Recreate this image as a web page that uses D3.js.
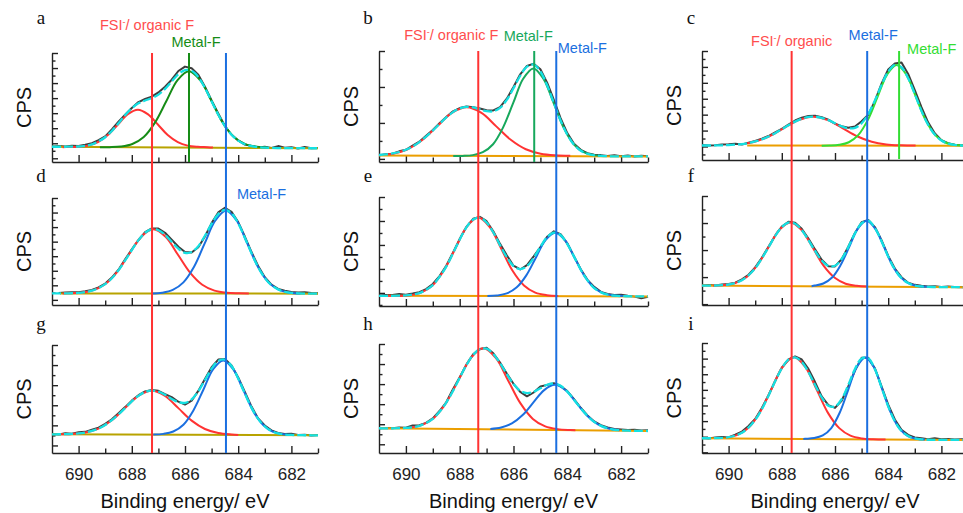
<!DOCTYPE html>
<html lang="en">
<head>
<meta charset="utf-8">
<style>
  body { margin: 0; background: #fff; }
  svg { display: block; background: #fff; font-family: "Liberation Sans", Arial, sans-serif; }
  .axis path, .axis line { stroke: #222; stroke-width: 1.4; }
  .axis text { font-size: 17px; fill: #222; font-family: "Liberation Sans", Arial, sans-serif; }
</style>
<title>F 1s XPS</title>
</head>
<body>
<script src="https://cdn.jsdelivr.net/npm/d3@7"></script>
<script>

// binding energy grid (eV) shared by the raw spectra and the envelopes
const be = [691, 690.75, 690.5, 690.25, 690, 689.75, 689.5, 689.25, 689, 688.75, 688.5, 688.25, 688,
  687.75, 687.5, 687.25, 687, 686.75, 686.5, 686.25, 686, 685.75, 685.5, 685.25, 685, 684.75, 684.5,
  684.25, 684, 683.75, 683.5, 683.25, 683, 682.75, 682.5, 682.25, 682, 681.75, 681.5, 681.25, 681];

const xMajor = [690, 688, 686, 684, 682];
const xMinor = [689, 687, 685, 683, 681];

// ---- panel a
const rawA = [14.0, 14.6, 14.2, 15.0, 14.6, 15.8, 17.2, 20.0, 23.5, 29.8, 37.0, 43.5, 49.6, 55.0, 57.8, 60.0, 63.8, 69.0, 75.5, 83.5, 87.5, 86.0, 80.0, 69.0, 56.5, 44.5, 33.0, 25.0, 19.8, 16.0, 14.8, 13.4, 14.0, 12.8, 14.6, 13.0, 13.6, 12.4, 13.8, 12.6, 12.8];
const fitA = [14.0, 14.0, 14.0, 14.1, 14.2, 14.9, 16.1, 18.9, 22.7, 28.5, 35.6, 43.0, 49.3, 53.8, 56.4, 58.6, 61.8, 67.1, 73.9, 80.5, 84.3, 83.7, 78.0, 68.0, 55.7, 43.5, 32.9, 25.0, 19.6, 16.3, 14.5, 13.6, 13.1, 12.9, 12.8, 12.75, 12.7, 12.7, 12.65, 12.6, 12.6];
const baseA = [[691, 14.0], [681, 12.6]];
const redA = [[690.6, 13.6], [690.40, 13.7], [690.02, 13.9], [689.65, 15.0], [689.27, 18.2], [688.90, 24.7], [688.52, 34.4], [688.15, 43.9], [687.77, 48.0], [687.40, 43.9], [687.02, 34.4], [686.65, 24.7], [686.27, 18.2], [685.90, 15.0], [685.52, 13.9], [685.15, 13.6], [684.95, 13.3]];
const greenA = [[689.2, 13.5], [688.83, 13.6], [688.40, 14.2], [687.98, 16.5], [687.55, 22.9], [687.13, 36.1], [686.70, 55.9], [686.28, 75.2], [685.85, 83.3], [685.43, 75.1], [685.00, 55.8], [684.58, 36.0], [684.15, 22.8], [683.73, 16.4], [683.30, 14.1], [682.88, 13.4]];

// ---- panel b
const rawB = [6.0, 7.0, 7.4, 9.6, 11.0, 14.8, 18.3, 23.6, 28.8, 34.9, 40.6, 45.6, 48.6, 50.0, 49.4, 48.2, 46.6, 46.5, 49.5, 57.0, 67.5, 79.0, 86.5, 88.6, 83.5, 71.5, 56.0, 39.5, 26.0, 16.5, 11.0, 8.0, 6.5, 6.2, 5.4, 6.0, 5.2, 5.9, 5.0, 5.6, 5.2];
const fitB = [6.3, 6.8, 7.7, 9.0, 11.0, 13.95, 17.9, 22.8, 28.3, 34.3, 40.1, 44.9, 48.3, 49.65, 49.2, 47.5, 45.8, 45.7, 48.7, 56.0, 66.4, 77.7, 85.9, 87.7, 81.7, 69.1, 53.2, 37.5, 24.7, 15.6, 10.2, 7.4, 6.0, 5.5, 5.2, 5.1, 5.1, 5.05, 5.0, 5.0, 5.0];
const baseB = [[691, 5.8], [681, 5.0]];
const redB = [[690.7, 6.9], [690.49, 7.5], [689.94, 11.5], [689.39, 19.8], [688.84, 32.1], [688.29, 44.2], [687.74, 49.3], [687.19, 44.2], [686.64, 32.1], [686.09, 19.8], [685.54, 11.5], [684.99, 7.5], [684.44, 6.0], [683.89, 5.6]];
const greenB = [[688.24, 5.4], [687.89, 5.5], [687.51, 6.2], [687.14, 8.8], [686.76, 16.0], [686.39, 31.0], [686.01, 53.2], [685.64, 75.0], [685.26, 84.3], [684.89, 75.0], [684.51, 53.2], [684.14, 31.0], [683.76, 16.0], [683.39, 8.8], [683.01, 6.2], [682.64, 5.5]];

// ---- panel c
const rawC = [13.8, 13.2, 13.6, 14.2, 14.4, 14.8, 14.2, 15.8, 17.4, 19.6, 22.0, 25.4, 28.6, 32.5, 36.2, 38.8, 40.4, 40.6, 39.2, 37.0, 33.4, 31.0, 29.6, 30.8, 35.5, 41.5, 54.0, 70.0, 83.0, 88.5, 89.5, 79.0, 64.0, 48.5, 34.5, 24.5, 18.2, 15.5, 14.0, 13.6, 13.4];
const fitC = [13.3, 13.3, 13.4, 13.5, 13.7, 14.1, 14.6, 15.6, 17.0, 18.9, 21.5, 24.6, 28.2, 31.8, 35.2, 37.8, 39.5, 39.75, 38.7, 36.55, 33.7, 30.9, 29.1, 29.55, 33.7, 42.1, 54.7, 68.9, 81.1, 87.2, 85.1, 75.0, 60.5, 45.1, 32.4, 23.3, 17.9, 15.0, 13.8, 13.3, 13.1];
const baseC = [[689.3, 13.3], [681, 13.0]];
const redC = [[689.3, 15.3], [689.02, 16.75], [688.47, 21.8], [687.92, 29.3], [687.37, 36.6], [686.82, 39.75], [686.27, 36.6], [685.72, 29.3], [685.17, 21.8], [684.62, 16.75], [684.07, 14.3], [683.52, 13.45], [682.97, 13.2]];
const greenC = [[686.5, 13.1], [686.20, 13.2], [685.84, 13.9], [685.48, 16.3], [685.12, 23.05], [684.76, 37.05], [684.40, 57.95], [684.04, 78.35], [683.68, 87.05], [683.32, 78.35], [682.96, 57.95], [682.60, 37.05], [682.24, 23.05], [681.88, 16.3], [681.52, 13.9], [681.16, 13.2]];

// ---- panel d
const rawD = [null, 11.2, 11.6, 11.9, 12.0, 12.8, 14.0, 16.4, 20.0, 25.6, 33.0, 42.6, 52.0, 60.5, 68.0, 71.5, 71.4, 67.5, 61.0, 54.5, 49.5, 49.0, 54.0, 64.0, 76.5, 86.5, 90.8, 87.0, 77.5, 64.0, 49.5, 36.5, 26.0, 19.0, 15.0, 13.4, 12.2, 11.6, 11.9, 11.2, 11.0];
const fitD = [10.8, 10.8, 10.9, 11.0, 11.35, 12.1, 13.35, 15.8, 19.45, 25.05, 32.5, 41.65, 51.4, 60.65, 67.5, 70.8, 69.9, 65.55, 59.0, 52.65, 48.8, 49.5, 55.0, 64.7, 75.8, 85.0, 88.8, 85.8, 76.4, 62.85, 48.4, 35.35, 25.3, 18.55, 14.6, 12.35, 11.3, 10.9, 10.7, 10.6, 10.6];
const baseD = [[690.7, 10.8], [681, 10.6]];
const redD = [[690.6, 10.85], [690.41, 10.9], [689.95, 11.4], [689.49, 13.4], [689.03, 18.9], [688.57, 30.25], [688.11, 47.15], [687.65, 63.7], [687.19, 70.75], [686.73, 63.7], [686.27, 47.15], [685.81, 30.25], [685.35, 18.9], [684.89, 13.4], [684.43, 11.4], [683.97, 10.9], [683.6, 10.7]];
const blueD = [[687.26, 10.8], [686.86, 11.5], [686.46, 14.05], [686.06, 21.15], [685.66, 35.75], [685.26, 57.55], [684.86, 78.95], [684.46, 88.05], [684.06, 78.95], [683.66, 57.55], [683.26, 35.75], [682.86, 21.15], [682.46, 14.05], [682.06, 11.5], [681.66, 10.8]];

// ---- panel e
const rawE = [9.6, 10.0, 10.2, 11.0, 10.4, 11.4, 12.6, 15.5, 20.2, 27.5, 37.0, 49.0, 61.5, 72.5, 80.0, 81.8, 77.8, 68.5, 57.0, 46.5, 37.0, 33.5, 37.5, 45.5, 54.0, 63.5, 68.5, 66.0, 57.5, 45.5, 33.8, 24.0, 17.5, 13.0, 11.0, 10.0, 10.4, 9.4, 8.6, 7.0, 8.5];
const fitE = [9.3, 9.3, 9.3, 9.45, 9.7, 10.5, 11.8, 14.8, 19.2, 26.8, 36.15, 48.3, 60.9, 72.2, 79.3, 81.0, 76.6, 67.4, 55.75, 44.8, 36.7, 33.85, 36.6, 44.2, 54.3, 63.2, 67.3, 65.1, 56.8, 45.3, 33.3, 23.5, 16.5, 12.5, 10.4, 9.5, 9.05, 8.95, 8.9, 8.85, 8.8];
const baseE = [[690.7, 9.3], [681, 8.8]];
const redE = [[690.7, 9.3], [690.29, 9.25], [689.86, 9.9], [689.44, 12.25], [689.01, 18.85], [688.59, 32.5], [688.16, 52.8], [687.74, 72.6], [687.31, 81.1], [686.89, 72.6], [686.46, 52.8], [686.04, 32.5], [685.61, 18.85], [685.19, 12.25], [684.76, 9.9], [684.34, 9.25]];
const blueE = [[686.97, 9.1], [686.61, 9.65], [686.25, 11.55], [685.89, 16.9], [685.53, 27.9], [685.17, 44.3], [684.81, 60.4], [684.45, 67.2], [684.09, 60.4], [683.73, 44.3], [683.37, 27.9], [683.01, 16.9], [682.65, 11.55], [682.29, 9.65], [681.93, 9.1]];

// ---- panel f
const rawF = [17.9, 18.4, 18.0, 18.9, 19.2, 20.5, 23.5, 27.8, 34.5, 43.3, 53.5, 63.5, 72.0, 76.4, 75.5, 70.0, 61.0, 51.0, 41.5, 35.5, 35.4, 42.0, 53.5, 66.0, 76.0, 78.0, 71.5, 59.5, 45.0, 33.5, 25.5, 20.5, 18.5, 17.6, 16.9, 17.3, 16.6, 16.9, 16.5, 16.2, 16.4];
const fitF = [17.8, 17.8, 17.9, 18.2, 18.8, 20.2, 22.7, 27.3, 33.7, 42.8, 52.9, 63.3, 71.45, 75.6, 74.6, 68.75, 59.6, 49.6, 40.9, 35.8, 36.0, 42.2, 53.2, 65.75, 75.0, 77.3, 70.6, 58.45, 44.45, 32.7, 24.6, 20.1, 17.85, 17.0, 16.6, 16.5, 16.45, 16.4, 16.4, 16.3, 16.3];
const baseF = [[691, 17.8], [681, 16.3]];
const redF = [[690.58, 17.85], [690.16, 18.3], [689.75, 20.2], [689.33, 25.45], [688.92, 36.5], [688.50, 52.9], [688.09, 69.0], [687.67, 75.8], [687.26, 68.8], [686.84, 52.7], [686.43, 36.1], [686.01, 24.95], [685.60, 19.55], [685.18, 17.6], [684.77, 17.0]];
const blueF = [[686.88, 17.3], [686.76, 17.85], [686.44, 19.75], [686.11, 25.2], [685.79, 36.6], [685.46, 53.55], [685.14, 70.1], [684.81, 77.2], [684.49, 70.0], [684.16, 53.4], [683.84, 36.3], [683.51, 24.85], [683.19, 19.3], [682.86, 17.25], [682.54, 16.65]];

// ---- panel g
const rawG = [17.5, 17.2, 18.2, 17.8, 19.2, 19.6, 21.5, 23.5, 27.0, 31.2, 36.8, 42.5, 48.5, 53.5, 57.0, 58.3, 57.6, 54.5, 51.8, 47.5, 44.8, 48.5, 57.5, 68.5, 79.5, 86.5, 87.0, 81.0, 70.0, 56.5, 43.0, 32.0, 25.5, 21.0, 18.5, 17.5, 17.8, 16.6, 17.0, 16.2, 16.6];
const fitG = [17.3, 17.35, 17.45, 17.7, 18.2, 19.0, 20.4, 22.7, 26.0, 30.5, 35.75, 41.7, 47.8, 52.9, 56.5, 57.7, 56.75, 53.9, 50.0, 47.05, 46.45, 49.6, 57.1, 67.5, 78.05, 85.3, 86.4, 80.5, 69.1, 55.1, 42.0, 31.6, 24.55, 20.3, 18.1, 17.1, 16.7, 16.5, 16.45, 16.4, 16.4];
const baseG = [[691, 17.3], [681, 16.4]];
const redG = [[690.75, 17.35], [690.25, 17.7], [689.75, 19.0], [689.25, 22.65], [688.75, 30.3], [688.25, 41.75], [687.75, 52.9], [687.25, 57.65], [686.75, 52.8], [686.25, 41.55], [685.75, 30.0], [685.25, 22.25], [684.75, 18.5], [684.25, 17.1], [684.0, 16.75]];
const blueG = [[687.19, 17.1], [686.81, 17.7], [686.44, 19.9], [686.06, 26.2], [685.69, 39.2], [685.31, 58.6], [684.94, 77.65], [684.56, 85.7], [684.19, 77.6], [683.81, 58.45], [683.44, 39.0], [683.06, 25.9], [682.69, 19.6], [682.31, 17.3], [681.94, 16.65]];

// ---- panel h
const rawH = [22.4, 22.9, 22.6, 23.4, 23.2, 25.2, 25.4, 27.6, 31.8, 38.5, 46.5, 58.5, 69.5, 81.0, 90.5, 95.5, 96.5, 91.5, 83.0, 73.0, 63.5, 56.0, 52.0, 55.5, 61.0, 62.5, 64.0, 61.5, 56.8, 49.5, 41.5, 34.5, 29.0, 25.5, 23.4, 22.0, 21.6, 21.2, 21.4, 20.6, 20.8];
const fitH = [22.7, 22.65, 22.65, 22.75, 23.0, 23.7, 24.9, 27.5, 31.4, 37.8, 46.2, 56.9, 68.95, 80.7, 90.0, 95.3, 95.7, 90.8, 82.4, 72.4, 63.35, 57.2, 54.95, 56.1, 59.4, 62.6, 63.75, 61.6, 56.3, 48.8, 41.0, 34.0, 28.5, 24.9, 22.7, 21.3, 20.8, 20.45, 20.3, 20.25, 20.2];
const baseH = [[691, 22.7], [681, 20.2]];
const redH = [[689.88, 23.2], [689.42, 25.6], [688.96, 32.2], [688.50, 46.2], [688.04, 67.1], [687.58, 87.4], [687.12, 96.0], [686.66, 87.2], [686.20, 66.6], [685.74, 45.5], [685.28, 31.3], [684.82, 24.4], [684.36, 21.9], [683.90, 21.1], [683.70, 20.95]];
const blueH = [[686.86, 22.1], [686.46, 23.4], [686.06, 27.1], [685.66, 34.8], [685.26, 46.4], [684.86, 57.7], [684.46, 62.5], [684.06, 57.5], [683.66, 46.0], [683.26, 34.2], [682.86, 26.3], [682.46, 22.4], [682.06, 20.9]];

// ---- panel i
const rawI = [13.6, 13.2, 14.0, 14.6, 14.2, 16.6, 19.5, 24.5, 31.0, 41.0, 52.5, 65.5, 77.5, 85.0, 87.8, 85.0, 76.5, 64.5, 51.5, 43.5, 41.0, 47.5, 60.5, 75.0, 86.5, 86.5, 77.0, 60.5, 44.0, 30.5, 21.0, 16.5, 14.2, 13.5, 12.6, 13.4, 12.5, 12.8, 12.2, 12.6, 12.0];
const fitI = [13.4, 13.4, 13.5, 13.7, 14.35, 15.8, 18.35, 23.2, 30.05, 39.9, 52.15, 65.2, 77.0, 84.85, 86.9, 82.8, 73.6, 61.8, 50.55, 43.0, 42.3, 48.95, 61.9, 76.4, 86.0, 86.1, 76.05, 59.6, 42.5, 28.85, 20.0, 15.35, 13.2, 12.4, 12.05, 12.0, 11.95, 11.9, 11.9, 11.85, 11.8];
const baseI = [[691, 13.4], [681, 11.8]];
const redI = [[690.09, 14.1], [689.67, 16.45], [689.24, 23.2], [688.82, 37.15], [688.39, 58.0], [687.97, 78.4], [687.54, 87.05], [687.12, 78.3], [686.69, 57.7], [686.27, 36.7], [685.84, 22.6], [685.42, 15.8], [684.99, 13.25], [684.57, 12.5], [684.1, 12.3]];
const blueI = [[687.19, 12.8], [687.10, 12.95], [686.78, 13.55], [686.46, 15.95], [686.14, 22.7], [685.82, 36.8], [685.50, 57.7], [685.18, 78.2], [684.86, 86.9], [684.54, 78.1], [684.22, 57.5], [683.90, 36.5], [683.58, 22.3], [683.26, 15.4], [682.94, 12.95], [682.62, 12.2]];

// reference positions (eV) of the vertical markers, one per column
const markRed = [687.24, 687.31, 687.63];
const markBlue = [684.46, 684.41, 684.79];
const markGreen = [685.85, 685.23, 683.59];

// ---- styling
const RED = "#ff3333", BLUE = "#1b6fe0", CYAN = "#14e0e2", RAW = "#3d3d3d";
const OLIVE = "#b8a300", ORANGE = "#eb9e00";
const GREENS = ["#168c16", "#17a85c", "#33dd33"];

const cols = [{x0: 52, x1: 318}, {x0: 379, x1: 648}, {x0: 702, x1: 968}];

const panels = [
  {id: "a", col: 0, top: 53, bot: 162, step: 6.9, raw: rawA, fit: fitA, base: baseA, baseColor: OLIVE, comps: [[redA, RED], [greenA, GREENS[0]]]},
  {id: "b", col: 1, top: 51, bot: 162, step: 16.2, raw: rawB, fit: fitB, base: baseB, baseColor: ORANGE, comps: [[redB, RED], [greenB, GREENS[1]]]},
  {id: "c", col: 2, top: 51, bot: 160, step: 7.3, raw: rawC, fit: fitC, base: baseC, baseColor: ORANGE, comps: [[redC, RED], [greenC, GREENS[2]]]},
  {id: "d", col: 0, top: 198, bot: 305, step: 6.8, raw: rawD, fit: fitD, base: baseD, baseColor: OLIVE, comps: [[redD, RED], [blueD, BLUE]]},
  {id: "e", col: 1, top: 197, bot: 306, step: 11, raw: rawE, fit: fitE, base: baseE, baseColor: ORANGE, comps: [[redE, RED], [blueE, BLUE]]},
  {id: "f", col: 2, top: 196, bot: 305, step: 12.4, raw: rawF, fit: fitF, base: baseF, baseColor: ORANGE, comps: [[redF, RED], [blueF, BLUE]]},
  {id: "g", col: 0, top: 345, bot: 453, step: 9.3, raw: rawG, fit: fitG, base: baseG, baseColor: OLIVE, comps: [[redG, RED], [blueG, BLUE]]},
  {id: "h", col: 1, top: 344, bot: 453, step: 9.2, raw: rawH, fit: fitH, base: baseH, baseColor: ORANGE, comps: [[redH, RED], [blueH, BLUE]]},
  {id: "i", col: 2, top: 343, bot: 453, step: 7.1, raw: rawI, fit: fitI, base: baseI, baseColor: ORANGE, comps: [[redI, RED], [blueI, BLUE]]}
];
const letterY = [24, 182, 330];

const svg = d3.select("body").append("svg")
  .attr("width", 963).attr("height", 513);

const xs = cols.map(c => d3.scaleLinear().domain([691, 681]).range([c.x0, c.x1]));

panels.forEach((p, idx) => {
  const c = cols[p.col];
  const x = xs[p.col];
  const y = d3.scaleLinear().domain([0, 100]).range([p.bot, p.top]);
  const row = Math.floor(idx / 3);
  const g = svg.append("g");

  // y axis: ticks counted down from the top, every other one long
  const yt = d3.range(100, -0.5, -p.step);
  g.append("g").attr("class", "axis").attr("transform", `translate(${c.x0},0)`)
    .call(d3.axisLeft(y).tickValues(yt.filter((d, i) => i % 2 === 0)).tickSizeInner(-6).tickSizeOuter(0).tickFormat(""));
  g.append("g").attr("class", "axis").attr("transform", `translate(${c.x0},0)`)
    .call(d3.axisLeft(y).tickValues(yt.filter((d, i) => i % 2 === 1)).tickSizeInner(-3.5).tickSizeOuter(0).tickFormat(""))
    .select(".domain").remove();

  // x axis
  g.append("g").attr("class", "axis").attr("transform", `translate(0,${p.bot})`)
    .call(d3.axisBottom(x).tickValues(xMajor).tickSizeInner(-7).tickSizeOuter(0).tickPadding(15)
      .tickFormat(row === 2 ? d3.format("d") : ""));
  g.append("g").attr("class", "axis").attr("transform", `translate(0,${p.bot})`)
    .call(d3.axisBottom(x).tickValues(xMinor).tickSizeInner(-4.5).tickSizeOuter(0).tickFormat(""))
    .select(".domain").remove();

  const smooth = d3.line().defined(d => d[1] != null)
    .x(d => x(d[0])).y(d => y(d[1])).curve(d3.curveCatmullRom.alpha(0.5));
  const straight = d3.line().defined(d => d[1] != null)
    .x(d => x(d[0])).y(d => y(d[1]));

  // measured spectrum
  g.append("path").datum(be.map((e, i) => [e, p.raw[i]]))
    .attr("d", straight).attr("fill", "none").attr("stroke", RAW).attr("stroke-width", 2)
    .attr("stroke-linejoin", "round");
  // background
  g.append("path").datum(p.base).attr("d", straight).attr("fill", "none")
    .attr("stroke", p.baseColor).attr("stroke-width", 2);
  // fitted components
  p.comps.forEach(([pts, col]) => {
    g.append("path").datum(pts).attr("d", smooth).attr("fill", "none")
      .attr("stroke", col).attr("stroke-width", 2);
  });
  // envelope
  g.append("path").datum(be.map((e, i) => [e, p.fit[i]]))
    .attr("d", smooth).attr("fill", "none").attr("stroke", CYAN).attr("stroke-width", 2.3)
    .attr("stroke-dasharray", "9,3");

  // CPS label
  g.append("text").attr("transform", `translate(${c.x0 - 28},${(p.top + p.bot) / 2}) rotate(-90)`)
    .attr("text-anchor", "middle").attr("dominant-baseline", "central")
    .attr("font-size", 20).attr("fill", "#111").text("CPS");

  // panel letter
  g.append("text").attr("x", c.x0 - 11).attr("y", letterY[row])
    .attr("text-anchor", "middle").attr("font-family", "'Liberation Serif', 'Times New Roman', serif")
    .attr("font-size", 19).attr("fill", "#111").text(p.id);
});

// x axis titles under the bottom row
cols.forEach(c => {
  svg.append("text").attr("x", (c.x0 + c.x1) / 2).attr("y", 508)
    .attr("text-anchor", "middle").attr("font-size", 20).attr("fill", "#111")
    .text("Binding energy/ eV");
});

// vertical reference lines
const yTop = 51, yBot = 453;
cols.forEach((c, i) => {
  const x = xs[i];
  [[markRed[i], RED, yBot], [markBlue[i], BLUE, yBot], [markGreen[i], GREENS[i], i === 2 ? 159 : 162]]
    .forEach(([e, col, y2]) => {
      svg.append("line").attr("x1", x(e)).attr("x2", x(e))
        .attr("y1", i === 0 ? 53 : yTop).attr("y2", y2)
        .attr("stroke", col).attr("stroke-width", 2);
    });
});

// annotations, placed next to their marker line
function fsiLabel(px, py, col, suffix) {
  const t = svg.append("text").attr("x", px).attr("y", py).attr("text-anchor", "middle")
    .attr("font-size", 14.5).attr("fill", col);
  t.append("tspan").text("FSI");
  t.append("tspan").attr("dy", -5).attr("font-size", 9).text("-");
  t.append("tspan").attr("dy", 5).text("/ organic" + suffix);
}
function metalLabel(px, py, col, anchor) {
  svg.append("text").attr("x", px).attr("y", py).attr("text-anchor", anchor)
    .attr("font-size", 14.5).attr("fill", col).text("Metal-F");
}
const LRED = "#ff4d4d";
fsiLabel(xs[0](markRed[0]) - 5, 29.5, LRED, " F");
metalLabel(xs[0](markGreen[0]) + 7, 46.5, GREENS[0], "middle");
fsiLabel(xs[1](markRed[1]) - 27, 39.5, LRED, " F");
metalLabel(xs[1](markGreen[1]) - 6, 41, GREENS[1], "middle");
metalLabel(xs[1](markBlue[1]) + 1.5, 53, BLUE, "start");
fsiLabel(xs[2](markRed[2]), 46, LRED, "");
metalLabel(xs[2](markBlue[2]) + 6, 39.5, BLUE, "middle");
metalLabel(xs[2](markGreen[2]) + 8, 54, GREENS[2], "start");
metalLabel(xs[0](markBlue[0]) + 11, 199, BLUE, "start");

</script>
</body>
</html>
